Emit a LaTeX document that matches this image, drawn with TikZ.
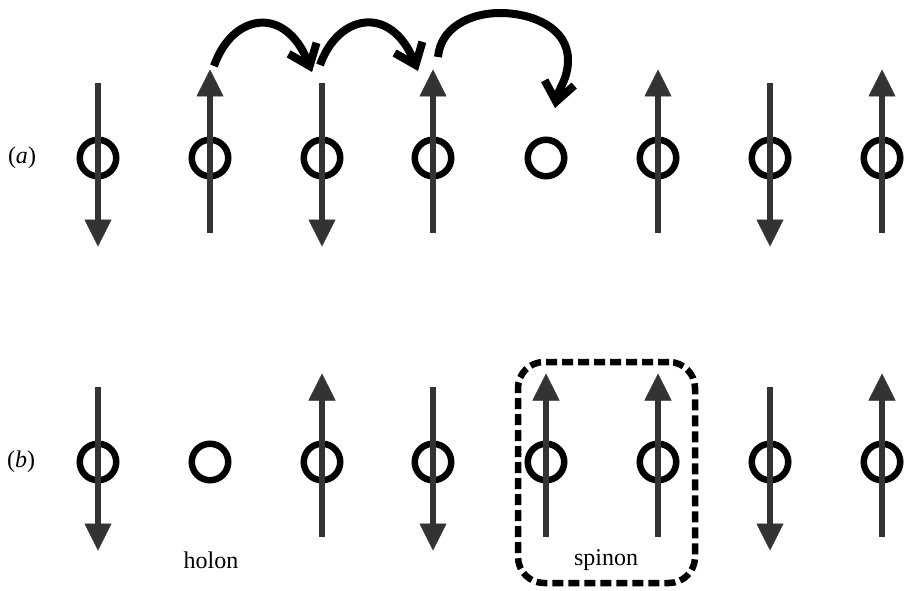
\documentclass[tikz,border=0pt]{standalone}
\usepackage{fontspec}
\setmainfont{Liberation Serif}
\usetikzlibrary{arrows.meta}
\definecolor{spingray}{RGB}{51,51,51}
\tikzset{
  site/.style={circle, draw=black, line width=6.5pt, minimum size=36.5pt, inner sep=0pt},
  spin/.style={draw=spingray, line width=6.5pt, -{Triangle[length=27pt,width=27pt,line width=0.5pt]}},
  hop/.style={draw=black, line width=8pt, -{Straight Barb[length=19pt,width=30pt]}},
  spinonbox/.style={draw=black, line width=6.5pt, dash pattern=on 11pt off 5pt, rounded corners=26pt, minimum width=177pt, minimum height=221pt, inner sep=0pt},
  lbl/.style={font=\fontsize{24}{28}\selectfont, inner sep=0pt}
}
\newcommand\spinup[1]{\draw[spin] ([yshift=-75pt]#1.center) -- ([yshift=88.5pt]#1.center);}
\newcommand\spindown[1]{\draw[spin] ([yshift=75pt]#1.center) -- ([yshift=-88.5pt]#1.center);}
\begin{document}
\begin{tikzpicture}[x=1pt,y=1pt]
\useasboundingbox (0,0) rectangle (904,-591);
% row (a)
\node[lbl] (la) at (22,-158) {(\textit{a})};
\foreach \i/\x in {1/98,2/210,3/322,4/433,5/546,6/658,7/770,8/882}{
  \node[site] (a\i) at (\x,-158) {};
  \node[site] (b\i) at (\x,-462) {};
}
\spindown{a1}\spinup{a2}\spindown{a3}\spinup{a4}\spinup{a6}\spindown{a7}\spinup{a8}
% row (b)
\node[lbl] (lb) at (21,-462) {(\textit{b})};
\spindown{b1}\spinup{b3}\spindown{b4}\spinup{b5}\spinup{b6}\spindown{b7}\spinup{b8}
\node[lbl] (holon) at (211,-560) {holon};
\node[spinonbox] (box) at (606.5,-472.5) {};
\node[lbl] (spinon) at (606,-560) {spinon};
% hops
\coordinate (h1s) at (214,-66);
\coordinate (h1e) at (312,-72);
\coordinate (h2s) at (320,-65);
\coordinate (h2e) at (418,-71);
\coordinate (h3s) at (438,-57);
\coordinate (h3e) at (555,-108);
\draw[hop] (h1s) .. controls (232,-14) and (285,-4) .. (h1e);
\draw[hop] (h2s) .. controls (338,-14) and (391,-4) .. (h2e);
\draw[hop] (h3s) to[out=85,in=180] (500,-13) to[out=0,in=90] (568,-60) to[out=-90,in=80] (h3e);
\end{tikzpicture}
\end{document}
